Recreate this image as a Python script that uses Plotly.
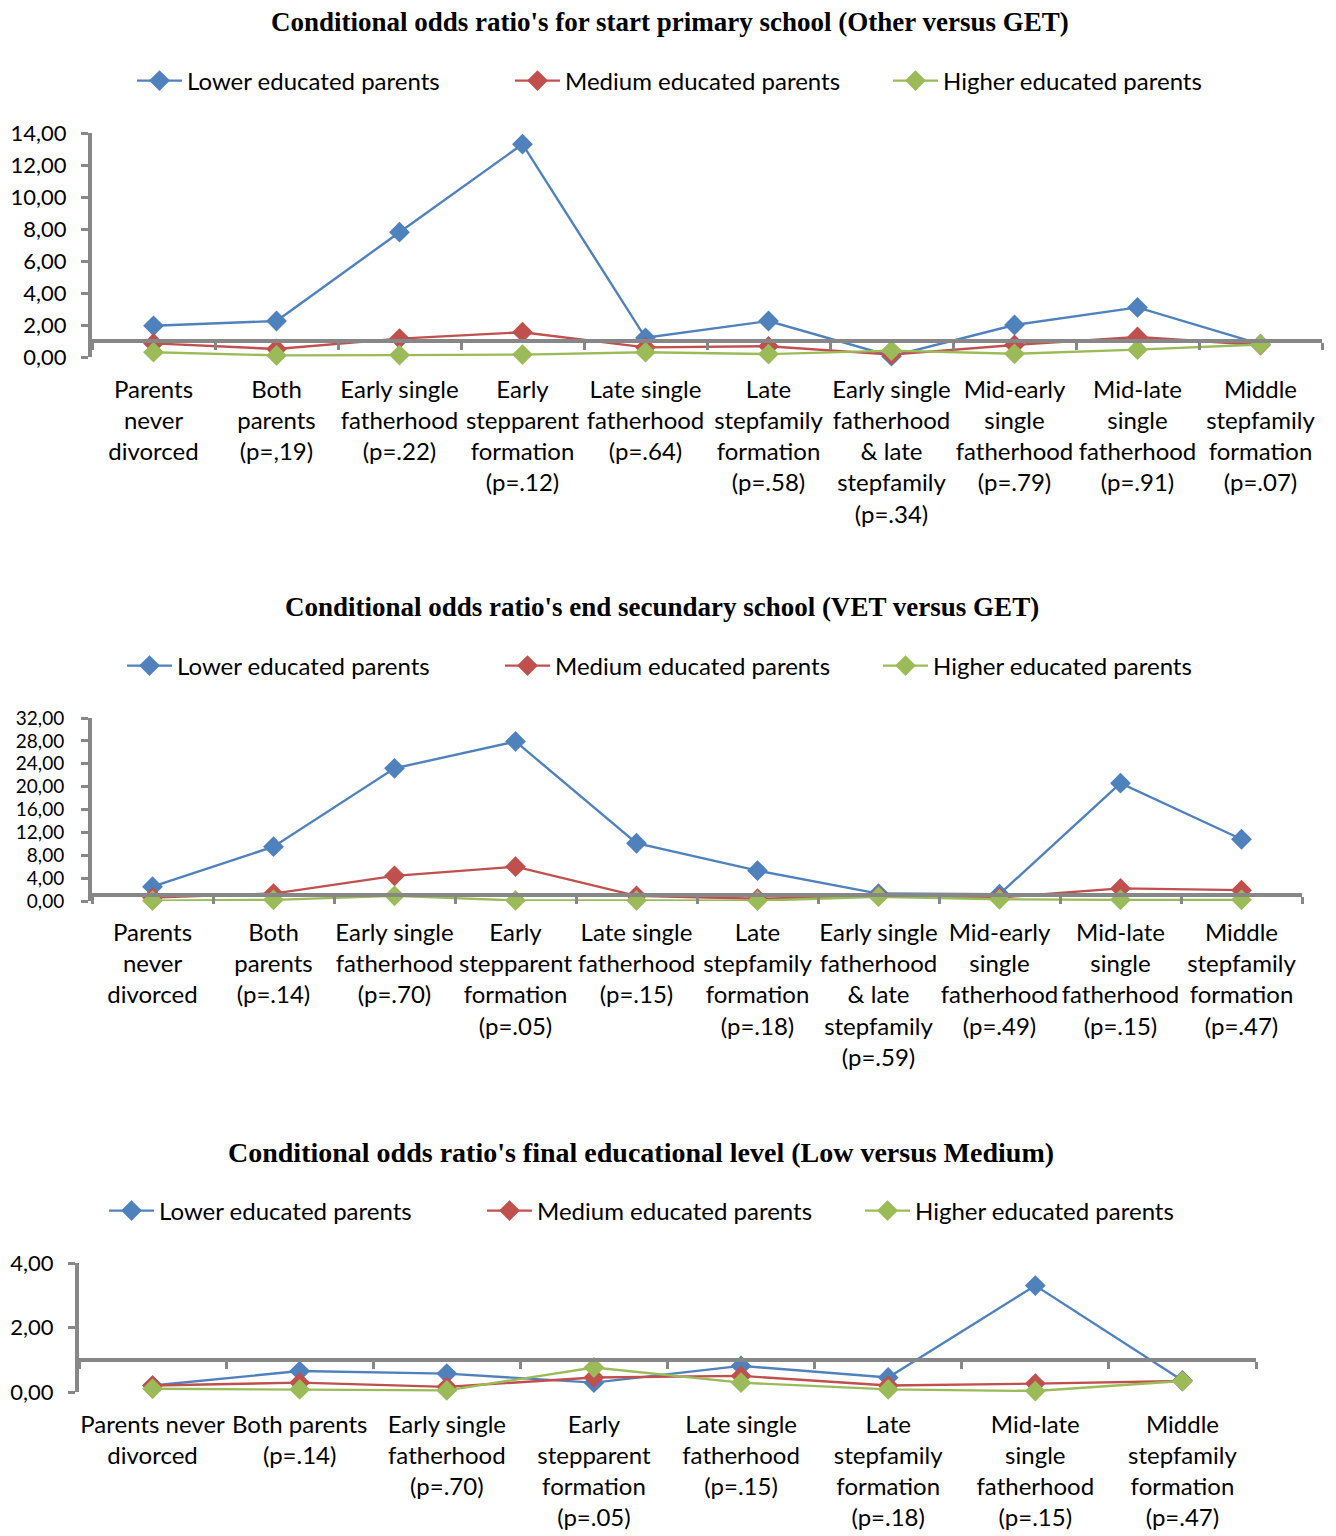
import plotly.graph_objects as go

# ---------------- data ----------------
series_names = ["Lower educated parents", "Medium educated parents", "Higher educated parents"]

titles = [
    "Conditional odds ratio's for start primary school (Other versus GET)",
    "Conditional odds ratio's end secundary school (VET versus GET)",
    "Conditional odds ratio's final educational level (Low versus Medium)",
]

cats1 = ["Parents<br>never<br>divorced", "Both<br>parents<br>(p=,19)", "Early single<br>fatherhood<br>(p=.22)",
         "Early<br>stepparent<br>formation<br>(p=.12)", "Late single<br>fatherhood<br>(p=.64)",
         "Late<br>stepfamily<br>formation<br>(p=.58)", "Early single<br>fatherhood<br>& late<br>stepfamily<br>(p=.34)",
         "Mid-early<br>single<br>fatherhood<br>(p=.79)", "Mid-late<br>single<br>fatherhood<br>(p=.91)",
         "Middle<br>stepfamily<br>formation<br>(p=.07)"]
low1 = [1.95, 2.25, 7.8, 13.3, 1.2, 2.25, 0.05, 2.0, 3.1, 0.8]
med1 = [0.85, 0.5, 1.15, 1.55, 0.6, 0.67, 0.15, 0.75, 1.25, 0.75]
high1 = [0.3, 0.1, 0.12, 0.15, 0.3, 0.18, 0.4, 0.2, 0.46, 0.78]

cats2 = ["Parents<br>never<br>divorced", "Both<br>parents<br>(p=.14)", "Early single<br>fatherhood<br>(p=.70)",
         "Early<br>stepparent<br>formation<br>(p=.05)", "Late single<br>fatherhood<br>(p=.15)",
         "Late<br>stepfamily<br>formation<br>(p=.18)", "Early single<br>fatherhood<br>& late<br>stepfamily<br>(p=.59)",
         "Mid-early<br>single<br>fatherhood<br>(p=.49)", "Mid-late<br>single<br>fatherhood<br>(p=.15)",
         "Middle<br>stepfamily<br>formation<br>(p=.47)"]
low2 = [2.5, 9.5, 23.2, 27.9, 10.1, 5.3, 1.3, 1.2, 20.6, 10.8]
med2 = [0.6, 1.3, 4.4, 6.0, 0.9, 0.4, 0.9, 0.6, 2.2, 1.9]
high2 = [0.05, 0.2, 0.9, 0.1, 0.1, 0.05, 0.75, 0.3, 0.2, 0.2]

cats3 = ["Parents never<br>divorced", "Both parents<br>(p=.14)", "Early single<br>fatherhood<br>(p=.70)",
         "Early<br>stepparent<br>formation<br>(p=.05)", "Late single<br>fatherhood<br>(p=.15)",
         "Late<br>stepfamily<br>formation<br>(p=.18)", "Mid-late<br>single<br>fatherhood<br>(p=.15)",
         "Middle<br>stepfamily<br>formation<br>(p=.47)"]
low3 = [0.2, 0.65, 0.57, 0.29, 0.81, 0.45, 3.3, 0.36]
med3 = [0.2, 0.29, 0.16, 0.45, 0.5, 0.2, 0.26, 0.34]
high3 = [0.1, 0.08, 0.05, 0.76, 0.29, 0.08, 0.03, 0.34]

y_max = [14, 32, 4]
y_step = [2, 4, 2]
ref_value = 1.0

# ---------------- styling / layout ----------------
W, H = 1336, 1536
OFF = 8  # page body margin in the browser
colors = ["#4F81BD", "#C0504D", "#9BBB59"]
gray = "#878787"
sans = "Lato, 'Open Sans', sans-serif"
serif = "'Liberation Serif', 'DejaVu Serif', serif"

# pixel boxes on the page: (left, right, top, bottom)
boxes = [(92, 1322, 133, 357), (92, 1302, 718, 901), (79, 1256, 1263, 1392)]
title_x = [670, 662, 641]
title_y = [22, 607, 1152]
title_size = [27, 27, 28]
legend_y = [81, 666, 1211]
legend_x = [132, 122, 104]
label_gap = [17, 17, 17]
ytick_size = [22, 19, 22]
ytick_standoff = [10, 13, 10]


def px_x(v):
    return (v - OFF) / W


def px_y(v):
    return 1 - (v - OFF) / H


charts = [(cats1, [low1, med1, high1]), (cats2, [low2, med2, high2]), (cats3, [low3, med3, high3])]

fig = go.Figure()
layout = dict(
    width=W, height=H, margin=dict(l=0, r=0, t=0, b=0, pad=0, autoexpand=False),
    paper_bgcolor="white", plot_bgcolor="white",
    separators=", ", showlegend=True, annotations=[],
)

for i, (cats, vals) in enumerate(charts):
    n = i + 1
    xa = "x" if n == 1 else f"x{n}"
    ya = "y" if n == 1 else f"y{n}"
    lg = "legend" if n == 1 else f"legend{n}"
    for s, name in enumerate(series_names):
        fig.add_trace(go.Scatter(
            x=cats, y=vals[s], name=name, mode="lines+markers",
            xaxis=xa, yaxis=ya, legend=lg, cliponaxis=False,
            line=dict(color=colors[s], width=2.4),
            marker=dict(symbol="diamond", size=16, color=colors[s]),
        ))
    l, r, t, b = boxes[i]
    ydom = [px_y(b), px_y(t)]
    ref_pos = ydom[0] + (ydom[1] - ydom[0]) * ref_value / y_max[i]
    ref_px = (b - t) * ref_value / y_max[i]
    layout["xaxis" if n == 1 else f"xaxis{n}"] = dict(
        domain=[px_x(l), px_x(r)], anchor="free", position=ref_pos,
        type="category", range=[-0.5, len(cats) - 0.5],
        showline=True, linecolor=gray, linewidth=4,
        ticks="outside", tickson="boundaries", ticklen=7, tickwidth=3, tickcolor=gray,
        tickangle=0, showgrid=False, zeroline=False,
        ticklabelstandoff=int(ref_px + label_gap[i] - 7),
        tickfont=dict(family=sans, size=24, color="black"),
        fixedrange=True,
    )
    layout["yaxis" if n == 1 else f"yaxis{n}"] = dict(
        domain=ydom, anchor=xa, range=[0, y_max[i]], dtick=y_step[i], tick0=0,
        tickformat=".2f", showline=True, linecolor=gray, linewidth=4,
        ticks="outside", ticklen=7, tickwidth=3, tickcolor=gray,
        ticklabelstandoff=ytick_standoff[i],
        showgrid=False, zeroline=False,
        tickfont=dict(family=sans, size=ytick_size[i], color="black"),
        fixedrange=True,
    )
    layout[lg] = dict(
        orientation="h", x=px_x(legend_x[i]), xanchor="left",
        y=px_y(legend_y[i]), yanchor="middle",
        font=dict(family=sans, size=24, color="black"),
        entrywidth=318, entrywidthmode="pixels", itemwidth=45,
        bgcolor="rgba(0,0,0,0)",
    )
    layout["annotations"].append(dict(
        text=f"<b>{titles[i]}</b>", x=px_x(title_x[i]), xref="paper", xanchor="center",
        y=px_y(title_y[i]), yref="paper", yanchor="middle", showarrow=False,
        font=dict(family=serif, size=title_size[i], color="black"),
    ))

fig.update_layout(**layout)
fig.write_html("out.html")
